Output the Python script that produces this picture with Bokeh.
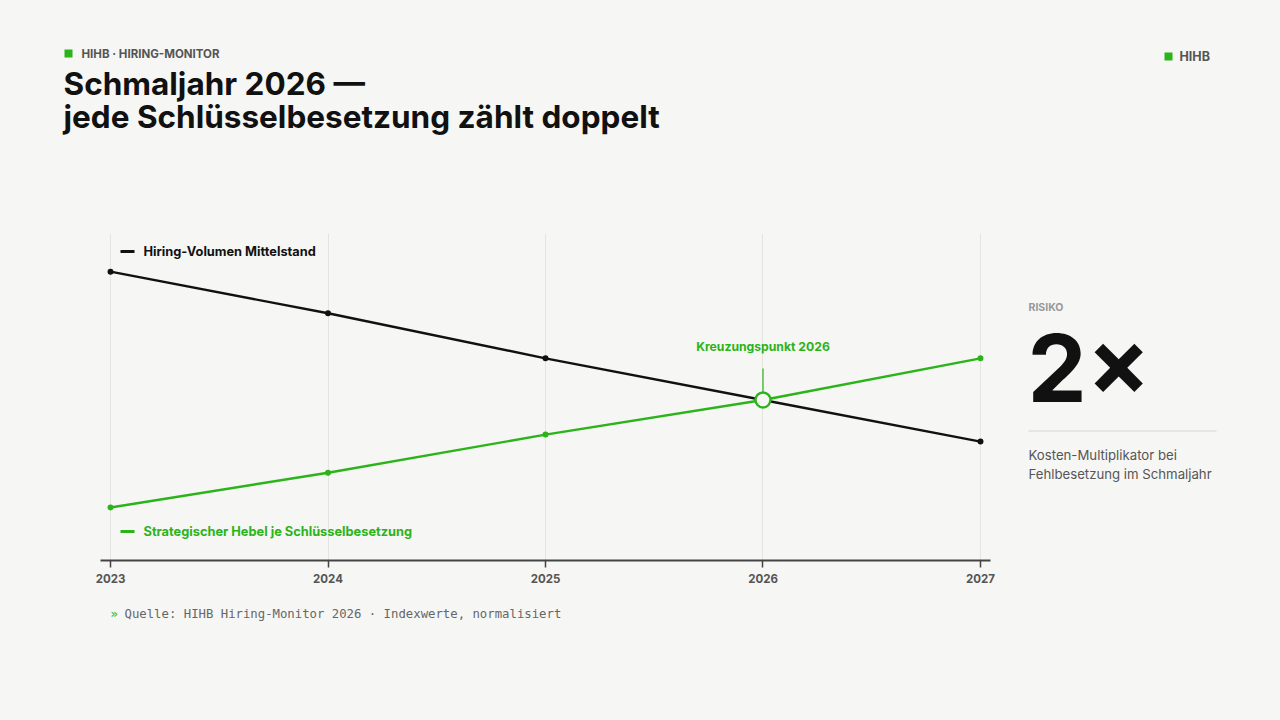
from bokeh.plotting import figure
from bokeh.models import Range1d, Label, FixedTicker, ColumnDataSource
from bokeh.layouts import column, row
from bokeh.embed import file_html
from bokeh.resources import INLINE

# ---- data ----
years = [2023, 2024, 2025, 2026, 2027]
hiring_volume = [100, 88, 75, 63, 51]
strategic_lever = [32, 42, 53, 63, 75]
cross_year = 2026
cross_value = 63
series_names = ["Hiring-Volumen Mittelstand", "Strategischer Hebel je Schlüsselbesetzung"]
risk_factor = "2×"

BG = "#f6f6f4"
GREEN = "#2bb31a"
BLACK = "#111111"
FONT = "Inter"

W, H = 1280, 720
TOP_H = 170      # header band height
MID_H = 430      # chart band height
CHART_W = 1000
FL, FR, FT, FB = 100, 990, 233, 560   # chart frame in page pixels


def canvas(px0, px1, py0, py1, border_top=0, border_bottom=0):
    """A figure whose data coordinates equal page pixels (y pointing down)."""
    f = figure(width=px1 - px0, height=py1 - py0 + border_top + border_bottom,
               output_backend="svg", toolbar_location=None,
               x_range=Range1d(px0, px1), y_range=Range1d(py1, py0),
               min_border_left=0, min_border_right=0,
               min_border_top=border_top, min_border_bottom=border_bottom)
    f.axis.visible = False
    f.grid.grid_line_color = None
    f.background_fill_color = BG
    f.border_fill_color = BG
    f.outline_line_color = None
    return f


def label(f, px, py, text, size, color, style="normal", font=FONT,
          align="left", baseline="middle"):
    f.add_layout(Label(x=px, y=py, text=text, text_font=font,
                       text_font_style=style, text_font_size=size,
                       text_color=color, text_align=align, text_baseline=baseline))


# ---------------- header ----------------
head = canvas(0, W, 0, TOP_H)
head.quad(left=[64], right=[72], top=[49], bottom=[57], fill_color=GREEN, line_color=None)
label(head, 81, 53, "HIHB · HIRING-MONITOR", "11.5px", "#555555", "bold")
label(head, 63, 83, "Schmaljahr 2026 —", "31.5px", BLACK, "bold")
label(head, 63, 116, "jede Schlüsselbesetzung zählt doppelt", "31.5px", BLACK, "bold")
head.quad(left=[1164], right=[1172], top=[52], bottom=[60], fill_color=GREEN, line_color=None)
label(head, 1179, 56, "HIHB", "12.5px", "#555555", "bold")

# ---------------- chart ----------------
X0, X1 = 2022.954, 2027.046
Y0, Y1 = 16.7, 111.0


def dx(px):
    return X0 + (px - FL) / (FR - FL) * (X1 - X0)


def dy(py):
    return Y0 + (FB - py) / (FB - FT) * (Y1 - Y0)


p = figure(width=CHART_W, height=MID_H, output_backend="svg", toolbar_location=None,
           x_range=Range1d(X0, X1), y_range=Range1d(Y0, Y1),
           min_border_left=FL, min_border_right=CHART_W - FR,
           min_border_top=FT - TOP_H, min_border_bottom=TOP_H + MID_H - FB)
p.background_fill_color = BG
p.border_fill_color = BG
p.outline_line_color = None
p.yaxis.visible = False
p.ygrid.grid_line_color = None
p.xgrid.grid_line_color = "#e4e4e0"
p.xgrid.grid_line_width = 1
p.xaxis.ticker = FixedTicker(ticks=years)
p.xaxis.axis_line_color = "#444444"
p.xaxis.axis_line_width = 2
p.xaxis.major_tick_line_color = "#444444"
p.xaxis.major_tick_line_width = 1.5
p.xaxis.major_tick_out = 7
p.xaxis.major_tick_in = 0
p.xaxis.minor_tick_line_color = None
p.xaxis.major_label_text_font = FONT
p.xaxis.major_label_text_font_style = "bold"
p.xaxis.major_label_text_font_size = "11.5px"
p.xaxis.major_label_text_color = "#555555"
p.xaxis.major_label_standoff = 6

src = ColumnDataSource(dict(x=years, a=hiring_volume, b=strategic_lever))
p.line("x", "a", source=src, line_color=BLACK, line_width=2.4)
p.line("x", "b", source=src, line_color=GREEN, line_width=2.4)
p.scatter("x", "a", source=src, size=6, fill_color=BLACK, line_color=None)
p.scatter("x", "b", source=src, size=6, fill_color=GREEN, line_color=None)

# crossing marker + callout
p.segment(x0=[cross_year], y0=[dy(392)], x1=[cross_year], y1=[dy(368)],
          line_color=GREEN, line_width=1.2)
p.scatter([cross_year], [cross_value], size=15, fill_color=BG,
          line_color=GREEN, line_width=2.4)
p.add_layout(Label(x=cross_year, y=dy(346), text="Kreuzungspunkt 2026",
                   text_font=FONT, text_font_style="bold", text_font_size="12.2px",
                   text_color=GREEN, text_align="center", text_baseline="middle"))

# in-plot legend
p.segment(x0=[dx(120)], y0=[dy(251)], x1=[dx(134)], y1=[dy(251)],
          line_color=BLACK, line_width=3)
p.add_layout(Label(x=dx(143), y=dy(251), text=series_names[0],
                   text_font=FONT, text_font_style="bold", text_font_size="12.8px",
                   text_color=BLACK, text_baseline="middle"))
p.segment(x0=[dx(120)], y0=[dy(531)], x1=[dx(134)], y1=[dy(531)],
          line_color=GREEN, line_width=3)
p.add_layout(Label(x=dx(143), y=dy(531), text=series_names[1],
                   text_font=FONT, text_font_style="bold", text_font_size="12.8px",
                   text_color=GREEN, text_baseline="middle"))

# ---------------- right panel (frame aligned with chart frame) ----------------
side = canvas(CHART_W, W, FT, FB, border_top=FT - TOP_H, border_bottom=TOP_H + MID_H - FB)
label(side, 1028, 307, "RISIKO", "10.5px", "#999999", "bold")
label(side, 1027, 367, risk_factor, "94px", BLACK, "bold")
side.segment(x0=[1028], y0=[430.5], x1=[1216], y1=[430.5], line_color="#d6d6d2", line_width=1)
label(side, 1028, 454, "Kosten-Multiplikator bei", "13.2px", "#555555")
label(side, 1028, 473, "Fehlbesetzung im Schmaljahr", "13.2px", "#555555")

# ---------------- footer ----------------
foot = canvas(0, W, TOP_H + MID_H, H)
label(foot, 110, 613, "»", "12.3px", GREEN, font="DejaVu Sans Mono")
label(foot, 124, 613, "Quelle: HIHB Hiring-Monitor 2026 · Indexwerte, normalisiert", "12.3px",
      "#666666", font="DejaVu Sans Mono")

bgstyle = {"background-color": BG}
layout = column(head, row(p, side, styles=bgstyle), foot, styles=bgstyle)
open("out.html", "w").write(file_html(layout, INLINE))
